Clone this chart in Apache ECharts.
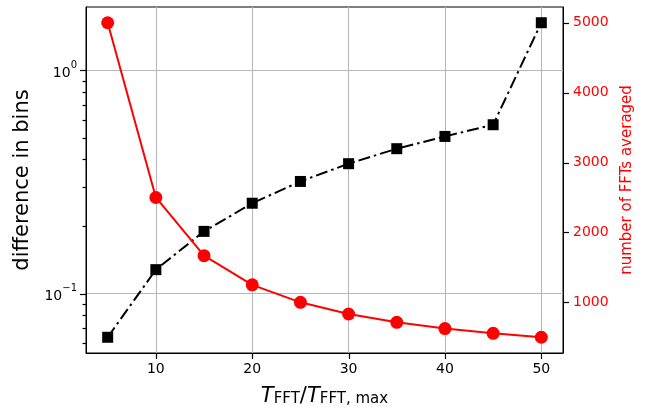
<!DOCTYPE html>
<html>
<head>
<meta charset="utf-8">
<script src="https://cdn.jsdelivr.net/npm/echarts@6/dist/echarts.min.js"></script>
<style>html,body{margin:0;padding:0;background:#fff}#c{width:645px;height:407px}</style>
</head>
<body>
<div id="c"></div>
<script>
const xValues = [5, 10, 15, 20, 25, 30, 35, 40, 45, 50];
const diffBins = [0.0637, 0.128, 0.190, 0.254, 0.318, 0.382, 0.446, 0.506, 0.571, 1.636];
const numFFTs = [5000, 2500, 1667, 1250, 1000, 833, 714, 625, 556, 500];
const xTicks = [10, 20, 30, 40, 50];
const leftTicks = [0.1, 1];
const leftMinorTicks = [0.06, 0.07, 0.08, 0.09, 0.2, 0.3, 0.4, 0.5, 0.6, 0.7, 0.8, 0.9];
const rightTicks = [1000, 2000, 3000, 4000, 5000];

const FONT = 'DejaVu Sans';
// matplotlib-like 5% margins
function linMargin(arr) {
  const mn = Math.min(...arr), mx = Math.max(...arr), d = (mx - mn) * 0.05;
  return [mn - d, mx + d];
}
function logMargin(arr) {
  const mn = Math.log10(Math.min(...arr)), mx = Math.log10(Math.max(...arr)), d = (mx - mn) * 0.05;
  return [Math.pow(10, mn - d), Math.pow(10, mx + d)];
}
const xr = linMargin(xValues);
const lr = logMargin(diffBins);
const rr = linMargin(numFFTs);

const chart = echarts.init(document.getElementById('c'), null, {renderer: 'canvas'});
const supFmt = v => {
  const e = Math.round(Math.log10(v));
  return '{b|10}{s|' + (e < 0 ? '\u2212' + (-e) : e) + '}';
};
chart.setOption({
  animation: false,
  grid: {left: 86, right: 82, top: 7, bottom: 54, show: true, borderColor: '#000', borderWidth: 1,
         containLabel: false, outerBoundsMode: 'none'},
  xAxis: {
    type: 'value', min: xr[0], max: xr[1],
    axisLine: {show: true, onZero: false, lineStyle: {color: '#000', width: 1}},
    axisTick: {show: false, customValues: xTicks},
    axisLabel: {customValues: xTicks, fontSize: 14, fontFamily: FONT, color: '#000', margin: 9},
    splitLine: {show: true, lineStyle: {color: '#b8b8b8', width: 1.1}},
    nameLocation: 'middle', nameGap: 28,
    name: '{i|T}{sub|FFT}{n|/}{i|T}{sub|FFT, max}',
    nameTextStyle: {
      rich: {
        i: {fontSize: 21, fontFamily: FONT, fontStyle: 'italic', color: '#000', lineHeight: 26, verticalAlign: 'bottom'},
        n: {fontSize: 21, fontFamily: FONT, color: '#000', lineHeight: 26, verticalAlign: 'bottom'},
        sub: {fontSize: 15, fontFamily: FONT, color: '#000', lineHeight: 18, verticalAlign: 'bottom'}
      }
    }
  },
  yAxis: [
    {
      type: 'log', logBase: 10, min: lr[0], max: lr[1], position: 'left',
      axisLine: {show: true, lineStyle: {color: '#000', width: 1}},
      axisTick: {show: false, customValues: leftTicks},
      axisLabel: {
        customValues: leftTicks, margin: 9, formatter: supFmt,
        rich: {
          b: {fontSize: 14, fontFamily: FONT, color: '#000', lineHeight: 20, verticalAlign: 'bottom'},
          s: {fontSize: 10, fontFamily: FONT, color: '#000', lineHeight: 12, verticalAlign: 'top'}
        }
      },
      splitLine: {show: true, lineStyle: {color: '#b8b8b8', width: 1.1}},
      name: 'difference in bins', nameLocation: 'middle', nameGap: 48,
      nameTextStyle: {fontSize: 21, fontFamily: FONT, color: '#000'}
    },
    {
      type: 'value', min: rr[0], max: rr[1], position: 'right',
      axisLine: {show: true, lineStyle: {color: '#000', width: 1}},
      axisTick: {show: false, customValues: rightTicks},
      axisLabel: {customValues: rightTicks, fontSize: 14, fontFamily: FONT, color: '#ff0000', margin: 10,
                  formatter: v => String(Math.round(v))},
      splitLine: {show: false},
      name: 'number of FFTs averaged', nameLocation: 'middle', nameGap: 53,
      nameTextStyle: {fontSize: 15, fontFamily: FONT, color: '#ff0000'}
    }
  ],
  series: [
    {
      type: 'line', xAxisIndex: 0, yAxisIndex: 0, z: 2,
      data: xValues.map((x, i) => [x, diffBins[i]]),
      symbol: 'rect', symbolSize: 11, showAllSymbol: true,
      itemStyle: {color: '#000'},
      lineStyle: {color: '#000', width: 2, type: [12, 4, 2.5, 4]}
    },
    {
      type: 'line', xAxisIndex: 0, yAxisIndex: 1, z: 3,
      data: xValues.map((x, i) => [x, numFFTs[i]]),
      symbol: 'circle', symbolSize: 13, showAllSymbol: true,
      itemStyle: {color: '#ff0000'},
      lineStyle: {color: '#ff0000', width: 2}
    }
  ]
});

// outward tick marks (matplotlib style), positioned through the library's own scales
const leftX = chart.convertToPixel({xAxisIndex: 0}, xr[0]);
const rightX = chart.convertToPixel({xAxisIndex: 0}, xr[1]);
const bottomY = chart.convertToPixel({yAxisIndex: 0}, lr[0]);
const crisp = p => Math.round(p) + 0.5;
const tickStyle = {stroke: '#000', lineWidth: 1.2};
const hTick = (x0, dir, len, y) => ({type: 'line', silent: true, z: 50,
  shape: {x1: x0, y1: crisp(y), x2: x0 + dir * len, y2: crisp(y)}, style: tickStyle});
const ticks = []
  .concat(xTicks.map(v => {
    const x = crisp(chart.convertToPixel({xAxisIndex: 0}, v));
    return {type: 'line', silent: true, z: 50, shape: {x1: x, y1: bottomY, x2: x, y2: bottomY + 6}, style: tickStyle};
  }))
  .concat(leftTicks.map(v => hTick(leftX, -1, 6, chart.convertToPixel({yAxisIndex: 0}, v))))
  .concat(leftMinorTicks.map(v => hTick(leftX, -1, 3.5, chart.convertToPixel({yAxisIndex: 0}, v))))
  .concat(rightTicks.map(v => hTick(rightX, 1, 6, chart.convertToPixel({yAxisIndex: 1}, v))));
chart.setOption({graphic: ticks});
</script>
</body>
</html>
